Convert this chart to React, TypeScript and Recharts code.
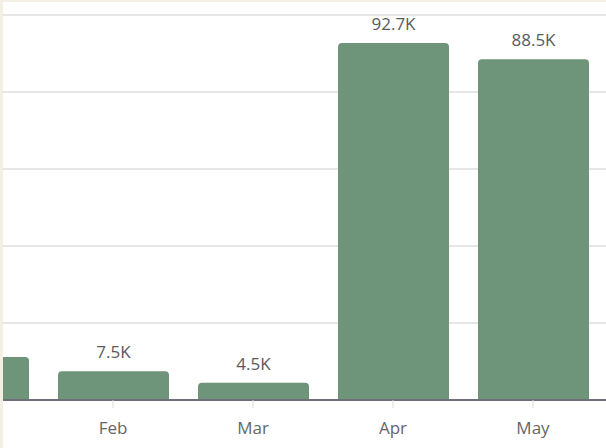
import React from "react";
import { BarChart, Bar, XAxis, YAxis, CartesianGrid, LabelList } from "recharts";

const months = ["Jan", "Feb", "Mar", "Apr", "May"];
const values = [11200, 7500, 4500, 92700, 88500];
const yTicks = [0, 20000, 40000, 60000, 80000, 100000];

const data = months.map((m, i) => ({ month: m, value: values[i] }));

const fmt = (v: number) => (v / 1000).toFixed(1) + "K";

export default function App() {
  return (
    <div style={{ position: "absolute", left: 0, top: 0, width: 606, height: 448, background: "#f3efe2" }}>
      <div style={{ position: "absolute", left: 3, top: 2, width: 603, height: 446, background: "#ffffff", overflow: "hidden" }}>
        <div style={{ position: "absolute", left: -100, top: 0 }}>
          <BarChart
            width={720}
            height={446}
            data={data}
            margin={{ top: 13, right: 0, bottom: 8, left: 0 }}
            barSize={111}
          >
            <CartesianGrid vertical={false} stroke="#e6e6e6" strokeWidth={2} />
            <YAxis hide domain={[0, 100000]} ticks={yTicks} />
            <XAxis
              dataKey="month"
              height={40}
              padding={{ left: 0, right: 20 }}
              axisLine={{ stroke: "#6d7078", strokeWidth: 2 }}
              tickLine={{ stroke: "#d8d8d8" }}
              tickSize={8}
              tickMargin={14}
              tick={{ fill: "#666666", fontSize: 17, fontFamily: "Open Sans" }}
            />
            <Bar dataKey="value" fill="#6e9479" radius={[4, 4, 0, 0]} isAnimationActive={false}>
              <LabelList
                dataKey="value"
                position="top"
                offset={13}
                formatter={(v: number) => fmt(v)}
                style={{ fill: "#5a5a5e", fontSize: 17, fontFamily: "Open Sans" }}
              />
            </Bar>
          </BarChart>
        </div>
      </div>
    </div>
  );
}
